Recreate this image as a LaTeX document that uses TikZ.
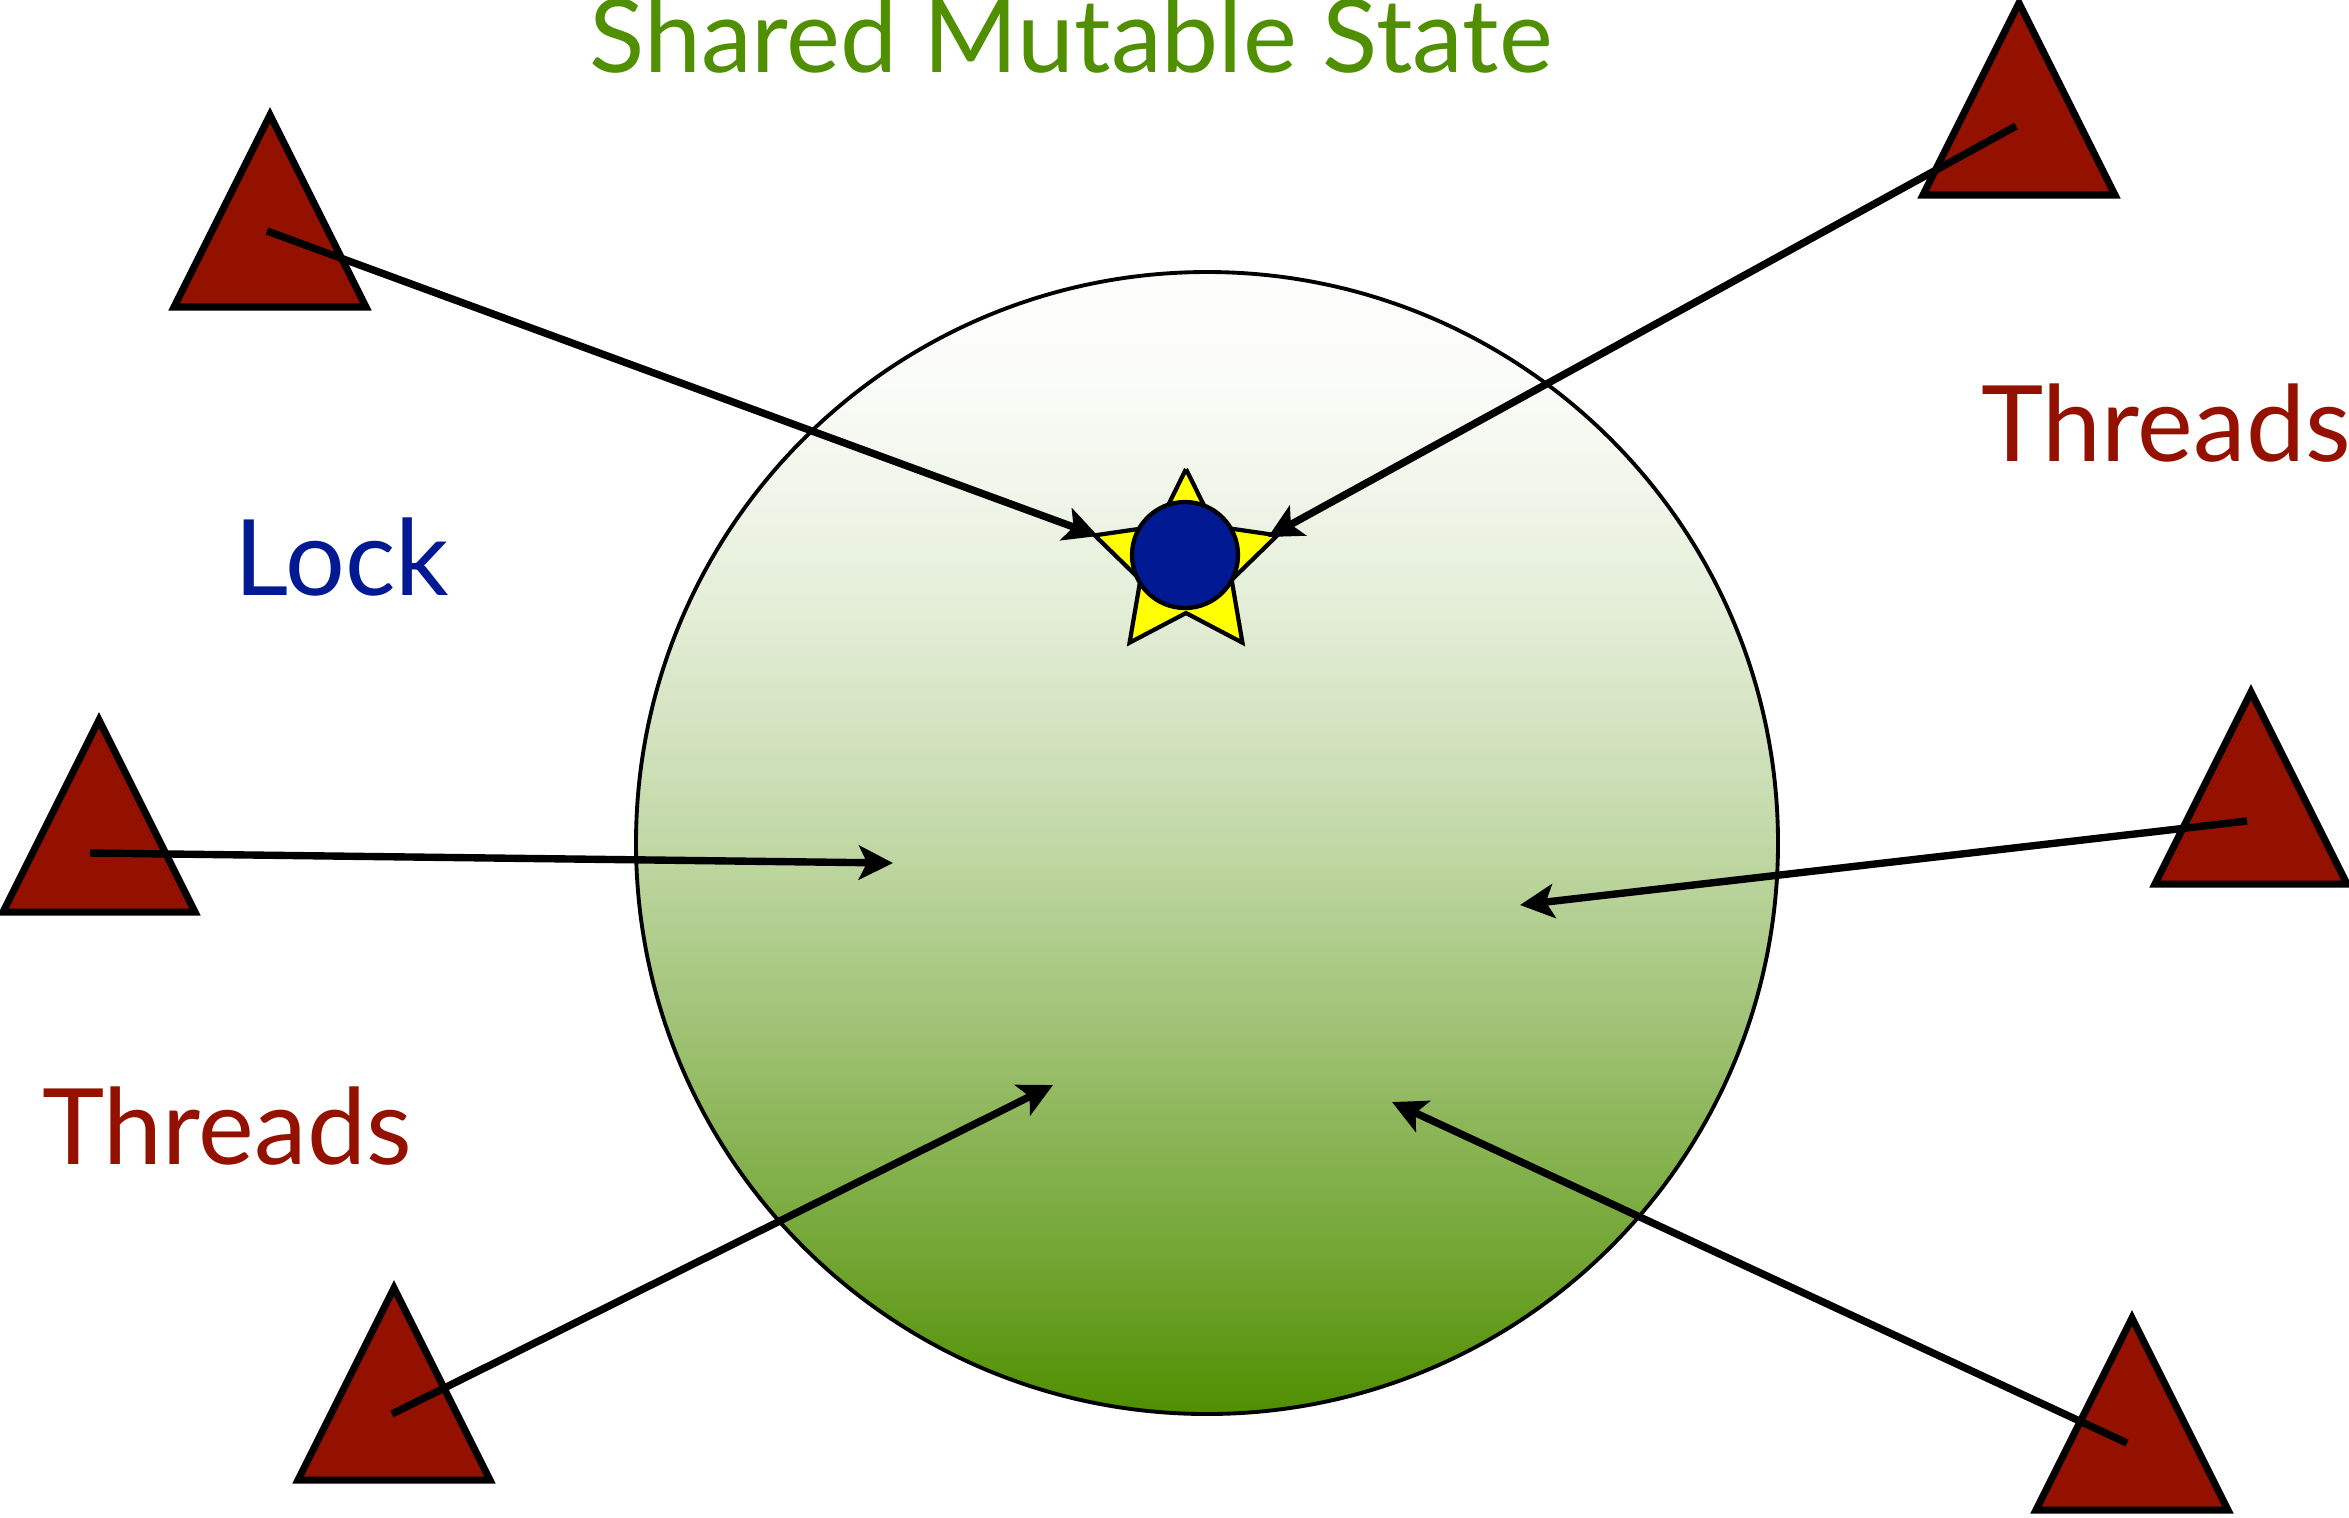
\documentclass[tikz,border=0pt]{standalone}
\usepackage{fontspec}
\setmainfont{Lato}
\usetikzlibrary{arrows.meta,calc}
\definecolor{cayenne}{HTML}{941100}
\definecolor{clover}{HTML}{4F8F00}
\definecolor{midnight}{HTML}{011993}
\definecolor{lemon}{HTML}{FFFF00}
\pgfdeclareverticalshading{statefill}{100bp}{%
  color(0bp)=(clover);
  color(25bp)=(clover);
  color(30bp)=(clover!85!white);
  color(35bp)=(clover!72!white);
  color(40bp)=(clover!59!white);
  color(45bp)=(clover!47!white);
  color(50bp)=(clover!35!white);
  color(55bp)=(clover!25!white);
  color(60bp)=(clover!16!white);
  color(65bp)=(clover!9!white);
  color(70bp)=(clover!3!white);
  color(75bp)=(clover!1!white);
  color(100bp)=(clover!1!white)}
\tikzset{
  thread/.style={fill=cayenne, draw=black, line width=2pt, line join=miter},
  access/.style={draw=black, line width=2.1pt, -{Stealth[length=0.34cm, width=0.34cm, inset=0.08cm]}},
  label/.style={font=\fontsize{30}{36}\selectfont, anchor=base, inner sep=0pt},
}
\newcommand\threadtri[1]{\filldraw[thread] (#1) -- ++(-96,192) -- ++(192,0) -- cycle;}
\begin{document}
\begin{tikzpicture}[x=0.01cm, y=-0.01cm]
\useasboundingbox (0,0) rectangle (2349,1517);
% shared state
\shade[shading=statefill] (1207,843) circle [radius=571];
\draw[line width=1.1pt] (1207,843) circle [radius=571];
% lock
\filldraw[fill=lemon, draw=black, line width=1.2pt, line join=miter]
  ($(1186,565)+(-90:96)$)
  \foreach \k in {0,...,4} { -- ($(1186,565)+(-54+72*\k:48)$) -- ($(1186,565)+(-18+72*\k:96)$) } ;
\node[circle, fill=midnight, draw=black, line width=1.2pt, minimum size=1.06cm, inner sep=0pt] (lock) at (1185,555) {};
% threads
\threadtri{270,115}
\threadtri{2019,3}
\threadtri{99,720}
\threadtri{2251,692}
\threadtri{394,1288}
\threadtri{2132,1318}
% arrow ends
\coordinate (s1) at (267,231);  \coordinate (e1) at (1098,536);
\coordinate (s2) at (2016,126); \coordinate (e2) at (1268,537);
\coordinate (s3) at (90,853);   \coordinate (e3) at (893,863);
\coordinate (s4) at (2247,821); \coordinate (e4) at (1520,905);
\coordinate (s5) at (392,1414); \coordinate (e5) at (1053,1085);
\coordinate (s6) at (2127,1443);\coordinate (e6) at (1392,1102);
\foreach \i in {1,...,6} { \draw[access] (s\i) -- (e\i); }
% labels
\node[label, text=clover, font=\fontsize{29}{35}\selectfont] (title) at (1071,72) {Shared Mutable State};
\node[label, text=midnight] (locklabel) at (342,595) {Lock};
\node[label, text=cayenne] (threadsR) at (2166,461) {Threads};
\node[label, text=cayenne] (threadsL) at (227,1164) {Threads};
\end{tikzpicture}
\end{document}
